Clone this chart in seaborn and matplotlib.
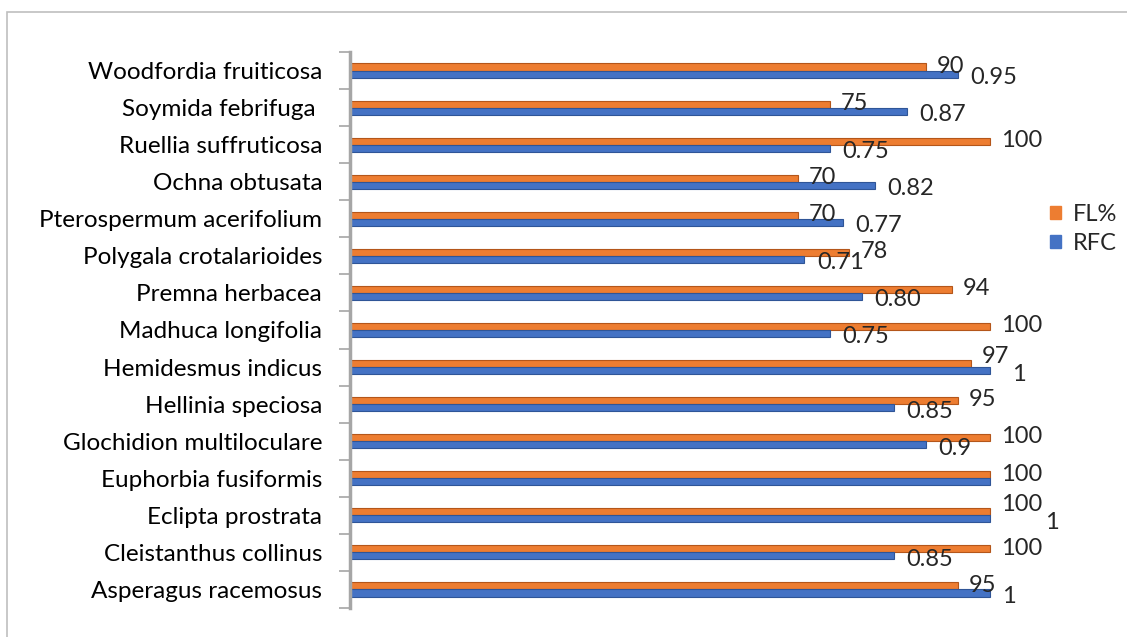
import matplotlib
matplotlib.use("Agg")
import matplotlib.pyplot as plt
import seaborn as sns
import pandas as pd
import numpy as np
from matplotlib.patches import Rectangle
from matplotlib.transforms import offset_copy

species = ["Woodfordia fruiticosa", "Soymida febrifuga ", "Ruellia suffruticosa", "Ochna obtusata",
           "Pterospermum acerifolium", "Polygala crotalarioides", "Premna herbacea", "Madhuca longifolia",
           "Hemidesmus indicus", "Hellinia speciosa", "Glochidion multiloculare", "Euphorbia fusiformis",
           "Eclipta prostrata", "Cleistanthus collinus", "Asperagus racemosus"]
fl = [90, 75, 100, 70, 70, 78, 94, 100, 97, 95, 100, 100, 100, 100, 95]
rfc = [0.95, 0.87, 0.75, 0.82, 0.77, 0.71, 0.80, 0.75, 1, 0.85, 0.9, 1, 1, 0.85, 1]
fl_labels = ["90", "75", "100", "70", "70", "78", "94", "100", "97", "95", "100", "100", "100", "100", "95"]
rfc_labels = ["0.95", "0.87", "0.75", "0.82", "0.77", "0.71", "0.80", "0.75", "1", "0.85", "0.9", "", "1", "0.85", "1"]
series = ["FL%", "RFC"]
colors = ["#ED7D31", "#4472C4"]
edges = ["#B4561A", "#2F5597"]

sns.set_theme(style="white")
plt.rcParams["font.family"] = ["Lato", "DejaVu Sans"]
FS = 17.5
DFS = 17

df = pd.DataFrame({
    "species": species * 2,
    "series": [series[0]] * len(species) + [series[1]] * len(species),
    "value": list(fl) + [v * 100 for v in rfc],
})

fig = plt.figure(figsize=(11.27, 6.37), dpi=100)
# outer chart border
fig.patches.append(Rectangle((7 / 1127, -0.01), 1.02, 1 - 12 / 637 + 0.01, transform=fig.transFigure,
                             fill=False, edgecolor="#BFBFBF", linewidth=1.2))
ax = fig.add_axes([350 / 1127, 1 - 608 / 637, 672 / 1127, 556 / 637])
sns.barplot(data=df, y="species", x="value", hue="series", hue_order=series, order=species,
            orient="h", palette=colors, width=0.38, ax=ax, legend=False, saturation=1)
for i, cont in enumerate(ax.containers):
    for b in cont:
        b.set_edgecolor(edges[i])
        b.set_linewidth(0.8)

ax.set_xlim(0, 105)
ax.set_ylim(len(species) - 0.5, -0.5)
ax.set_xlabel("")
ax.set_ylabel("")
ax.set_xticks([])
for s in ["top", "right", "bottom"]:
    ax.spines[s].set_visible(False)
ax.spines["left"].set_color("#A6A6A6")
ax.spines["left"].set_linewidth(2.5)
ax.set_yticks(np.arange(-0.5, len(species), 1.0), minor=True)
ax.tick_params(axis="y", which="minor", length=8, width=1.2, color="#A6A6A6", left=True)
ax.tick_params(axis="y", which="major", length=0, pad=20, labelsize=FS, labelcolor="#000000")

# data labels
fig.canvas.draw()
renderer = fig.canvas.get_renderer()
for i, (f, r, lf, lr) in enumerate(zip(fl, rfc, fl_labels, rfc_labels)):
    crowded = bool(lr) and (f - 2 <= r * 100 < f + 5)
    dy_f = 5 if crowded else 0.5
    tf = ax.annotate(lf, (f, i - 0.095), xytext=(8, dy_f), textcoords="offset points",
                     ha="left", va="center", fontsize=DFS, annotation_clip=False)
    if lr:
        dx_r = 9
        if crowded:
            ext = tf.get_window_extent(renderer)
            x_end_data = ax.transData.transform((r * 100, 0))[0]
            dx_r = (ext.x1 - x_end_data) * 72 / fig.dpi + 2
        ax.annotate(lr, (r * 100, i + 0.095), xytext=(dx_r, -2.5), textcoords="offset points",
                    ha="left", va="center", fontsize=DFS, annotation_clip=False)

# legend
handles = [Rectangle((0, 0), 1, 1, color=col) for col in colors]
fig.legend(handles, series, loc="center left", bbox_to_anchor=(1050 / 1127, 1 - 229 / 637),
           frameon=False, fontsize=DFS, handlelength=0.45, handleheight=0.45, handletextpad=0.5,
           labelspacing=0.35, borderpad=0, borderaxespad=0)

fig.savefig("out.png", dpi=100)
